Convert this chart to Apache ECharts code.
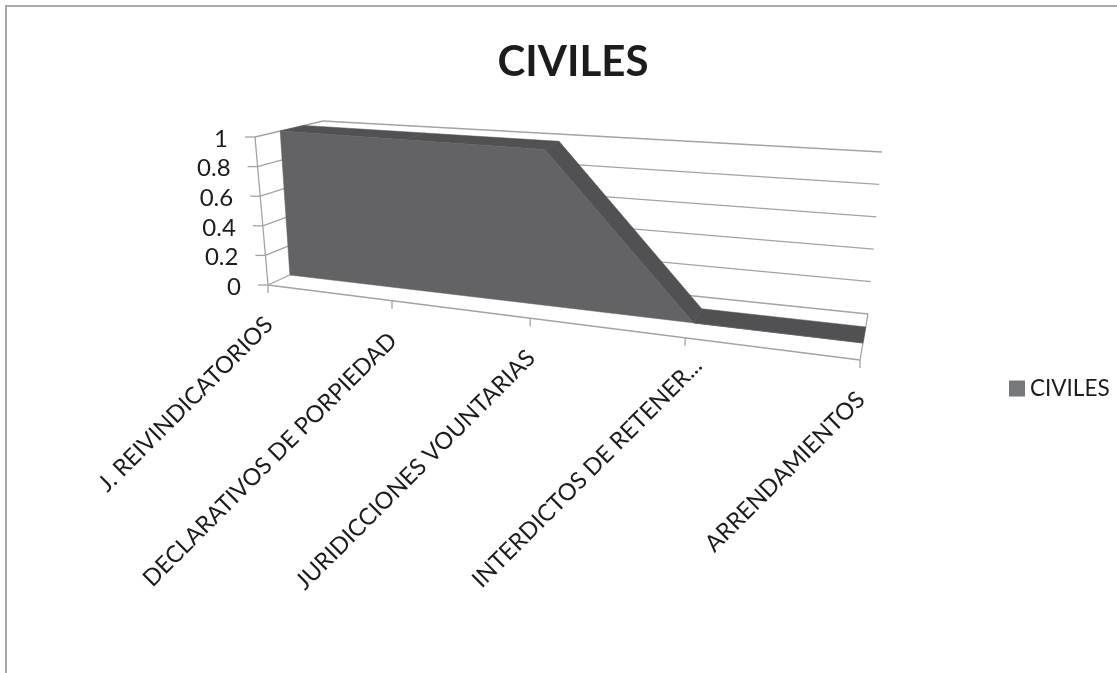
<!DOCTYPE html>
<html><head><meta charset="utf-8">
<style>html,body{margin:0;padding:0;background:#fff}#c{width:1117px;height:673px}</style>
<script src="https://cdn.jsdelivr.net/npm/echarts@6/dist/echarts.min.js"></script>
</head><body><div id="c"></div>
<script>
const categories = ['J. REIVINDICATORIOS','DECLARATIVOS DE PORPIEDAD','JURIDICCIONES VOUNTARIAS','INTERDICTOS DE RETENER...','ARRENDAMIENTOS'];
const values = [1,1,1,0,0];
const yTicks = [0,0.2,0.4,0.6,0.8,1];

const FONT = 'Lato, Carlito, "Open Sans", sans-serif';
const LINE = '#a3a3a5';
const grid = {left:268, top:137, width:592, height:148};
// corners of the projected 3D box: c[u][v][w]
const c = {
  '000':[268,285],'100':[860,360],'001':[327,258],'101':[868,314],
  '010':[255,137],'110':[875,185],'011':[323,121],'111':[882,152]
};
const PERSP = 1.258, W_FRONT = 0.37, W_BACK = 0.72;
function lerp(a,b,t){return [a[0]+(b[0]-a[0])*t,a[1]+(b[1]-a[1])*t];}
function project(pt,w){
  const u0=(pt[0]-grid.left)/grid.width, v=(grid.top+grid.height-pt[1])/grid.height;
  const u=u0/(u0+(1-u0)*PERSP);
  const f=lerp(lerp(c['000'],c['100'],u),lerp(c['010'],c['110'],u),v);
  const b=lerp(lerp(c['001'],c['101'],u),lerp(c['011'],c['111'],u),v);
  return lerp(f,b,w);
}
function seg(a,b,color){
  return {type:'line',shape:{x1:a[0],y1:a[1],x2:b[0],y2:b[1]},style:{stroke:color||LINE,lineWidth:1.3}};
}
function poly(points,fill){
  return {type:'polygon',shape:{points},style:{fill,stroke:fill,lineWidth:0.5}};
}
function renderWall(params,api){
  const v=api.value(1), n=categories.length-1;
  const l=api.coord([0,v]), r=api.coord([n,v]);
  const front=project(l,0), back=project(l,1), right=project(r,1);
  const kids=[seg(front,back),seg(back,right),seg([front[0]-10,front[1]],front)];
  kids.push({type:'text',style:{text:String(v),x:front[0]-27,y:front[1]+2,align:'right',verticalAlign:'middle',
    fontFamily:FONT,fontSize:24,fill:'#1c1c1e'}});
  if(v===0){
    const rf=project(r,0), top=project(api.coord([0,1]),0);
    kids.push(seg(front,rf),seg(rf,right),seg(front,top));
  }
  return {type:'group',children:kids};
}
function renderCat(params,api){
  const p=project(api.coord([api.value(0),0]),0);
  const text=categories[params.dataIndex];
  // the truncated label sits further up its diagonal
  const slide=text.endsWith('...')?12:0;
  return {type:'group',children:[
    seg(p,[p[0],p[1]+8]),
    {type:'text',x:p[0]+1+slide,y:p[1]+36-slide,rotation:Math.PI/4,
     style:{text,x:0,y:0,align:'right',verticalAlign:'middle',
       fontFamily:FONT,fontSize:23.5,fill:'#1c1c1e'}}
  ]};
}
function renderArea(params,api){
  const i=params.dataIndex, kids=[];
  if(i<values.length-1){
    const a=api.coord([i,values[i]]), b=api.coord([i+1,values[i+1]]);
    kids.push(poly([project(a,W_FRONT),project(b,W_FRONT),project(b,W_BACK),project(a,W_BACK)],'#515153'));
  }
  if(i===values.length-1){
    // front face as one outline, drawn last so it sits over the top faces
    const outline=[project(api.coord([0,0]),W_FRONT)];
    values.forEach((v,k)=>outline.push(project(api.coord([k,v]),W_FRONT)));
    outline.push(project(api.coord([values.length-1,0]),W_FRONT));
    kids.push(poly(outline,'#636365'));
  }
  return {type:'group',children:kids};
}
const chart=echarts.init(document.getElementById('c'),null,{renderer:'canvas'});
chart.setOption({
  animation:false,
  backgroundColor:'#fff',
  title:{text:'CIVILES',left:568,top:36,textAlign:'center',
    textStyle:{fontFamily:FONT,fontSize:42,fontWeight:'bold',color:'#1c1c1e'}},
  legend:{data:['CIVILES'],left:1009,top:377,icon:'rect',itemWidth:16,itemHeight:16,
    textStyle:{fontFamily:FONT,fontSize:22.5,color:'#1c1c1e'},padding:0,selectedMode:false},
  grid:{left:grid.left,top:grid.top,width:grid.width,height:grid.height},
  xAxis:{type:'category',boundaryGap:false,data:categories,show:false},
  yAxis:{type:'value',min:0,max:1,interval:0.2,show:false},
  graphic:[{type:'polyline',silent:true,shape:{points:[[6,673],[6,6],[1117,6]]},
    style:{fill:null,stroke:'#a8a8aa',lineWidth:2}}],
  series:[
    {type:'custom',name:'wall',z:1,silent:true,renderItem:renderWall,data:yTicks.map(v=>[0,v])},
    {type:'custom',name:'cats',z:1,silent:true,renderItem:renderCat,data:categories.map((_,i)=>[i,0])},
    {type:'custom',name:'CIVILES',z:2,silent:true,renderItem:renderArea,itemStyle:{color:'#77787b'},
     data:values.map((v,i)=>[i,v])}
  ]
});
</script></body></html>
